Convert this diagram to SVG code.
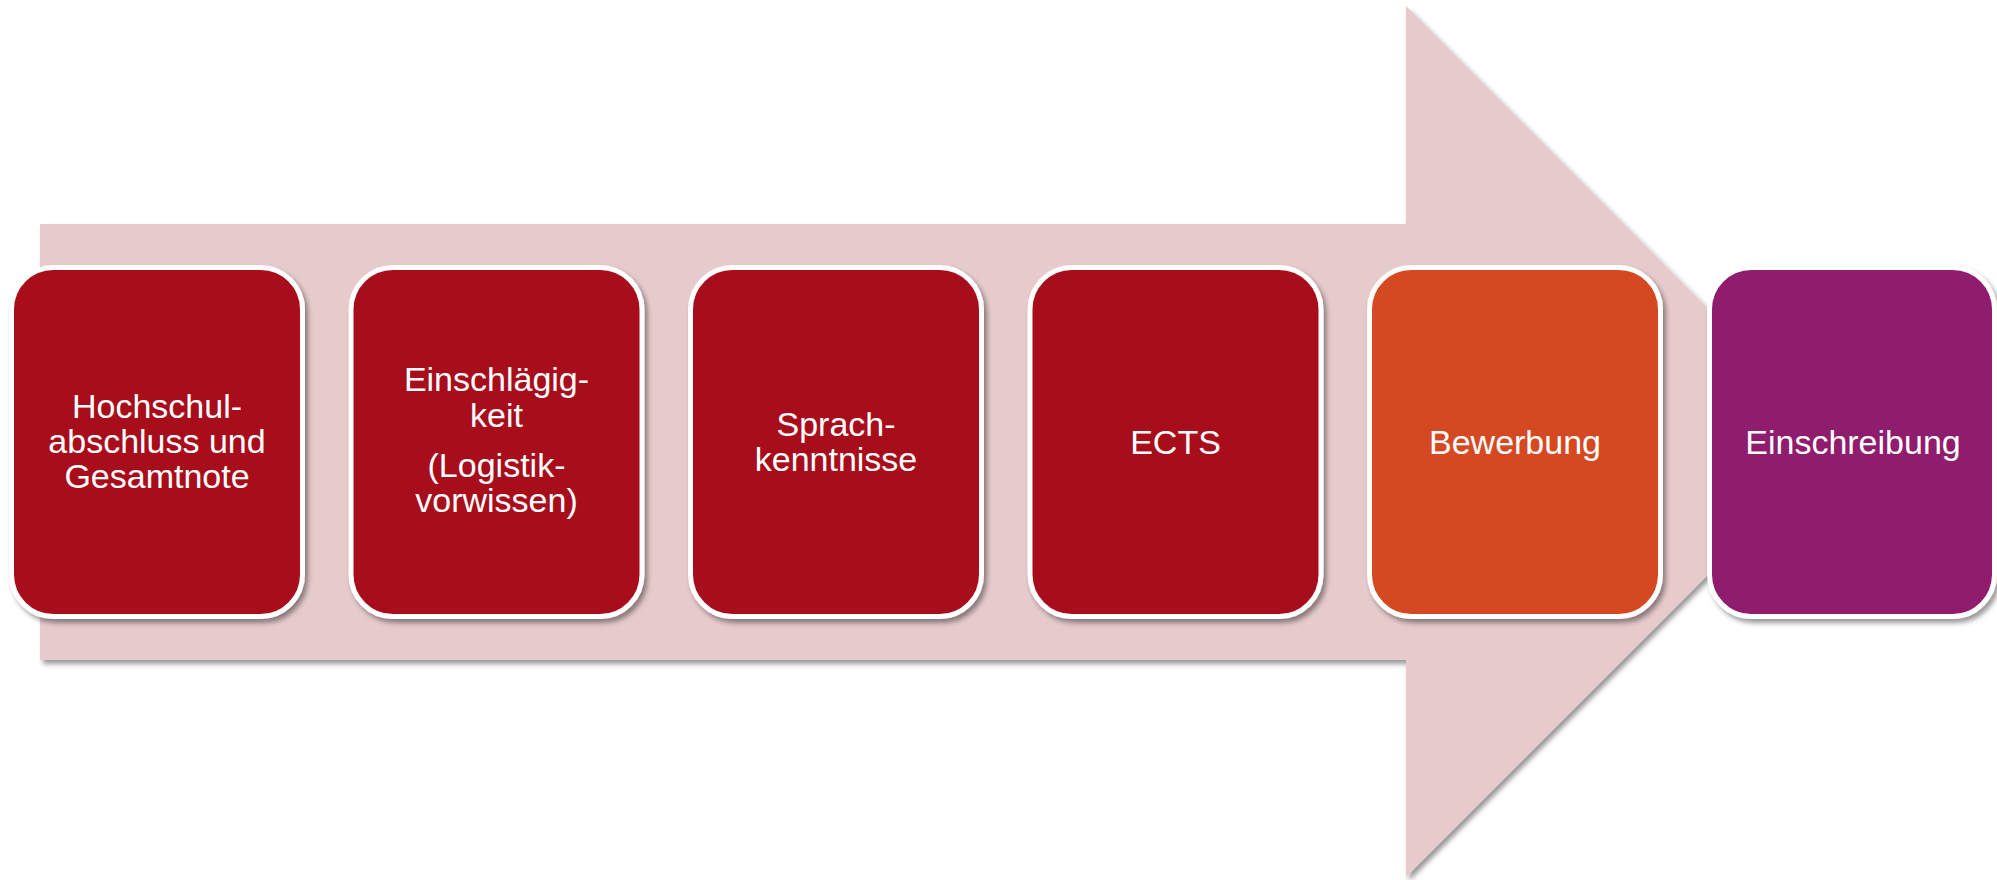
<svg xmlns="http://www.w3.org/2000/svg" width="1997" height="880" viewBox="0 0 1997 880">
  <defs>
    <filter id="shadow" x="-5%" y="-5%" width="115%" height="115%">
      <feDropShadow dx="3" dy="4" stdDeviation="2.5" flood-color="#000" flood-opacity="0.4"/>
    </filter>
    <style>
      .box { stroke: #ffffff; stroke-width: 5; filter: url(#shadow); }
      .red { fill: #A80F1F; }
      .orange { fill: #D54820; }
      .purple { fill: #8F1A6D; }
      .lbl { font-family: "Liberation Sans", Arial, sans-serif; font-size: 34px; fill: #ffffff; text-anchor: middle; }
    </style>
  </defs>
  <rect width="1997" height="880" fill="#ffffff"/>
  <g id="connectors">
    <polygon points="40,224 1406,224 1406,6 1841,441.5 1406,877 1406,660 40,660" fill="#E6CACC" filter="url(#shadow)"/>
  </g>
  <g id="node1">
    <rect class="box red" x="11.5" y="267.5" width="291" height="349" rx="42"/>
    <text class="lbl" x="157" y="418">Hochschul-</text>
    <text class="lbl" x="157" y="453">abschluss und</text>
    <text class="lbl" x="157" y="488">Gesamtnote</text>
  </g>
  <g id="node2">
    <rect class="box red" x="351" y="267.5" width="291" height="349" rx="42"/>
    <text class="lbl" x="496.5" y="391">Einschlägig-</text>
    <text class="lbl" x="496.5" y="427">keit</text>
    <text class="lbl" x="496.5" y="477">(Logistik-</text>
    <text class="lbl" x="496.5" y="512">vorwissen)</text>
  </g>
  <g id="node3">
    <rect class="box red" x="690.5" y="267.5" width="291" height="349" rx="42"/>
    <text class="lbl" x="836" y="436">Sprach-</text>
    <text class="lbl" x="836" y="471">kenntnisse</text>
  </g>
  <g id="node4">
    <rect class="box red" x="1030" y="267.5" width="291" height="349" rx="42"/>
    <text class="lbl" x="1175.5" y="454">ECTS</text>
  </g>
  <g id="node5">
    <rect class="box orange" x="1369.5" y="267.5" width="291" height="349" rx="42"/>
    <text class="lbl" x="1515" y="454">Bewerbung</text>
  </g>
  <g id="node6">
    <rect class="box purple" x="1709.5" y="267.5" width="285" height="349" rx="42"/>
    <text class="lbl" x="1853" y="454">Einschreibung</text>
  </g>
</svg>
